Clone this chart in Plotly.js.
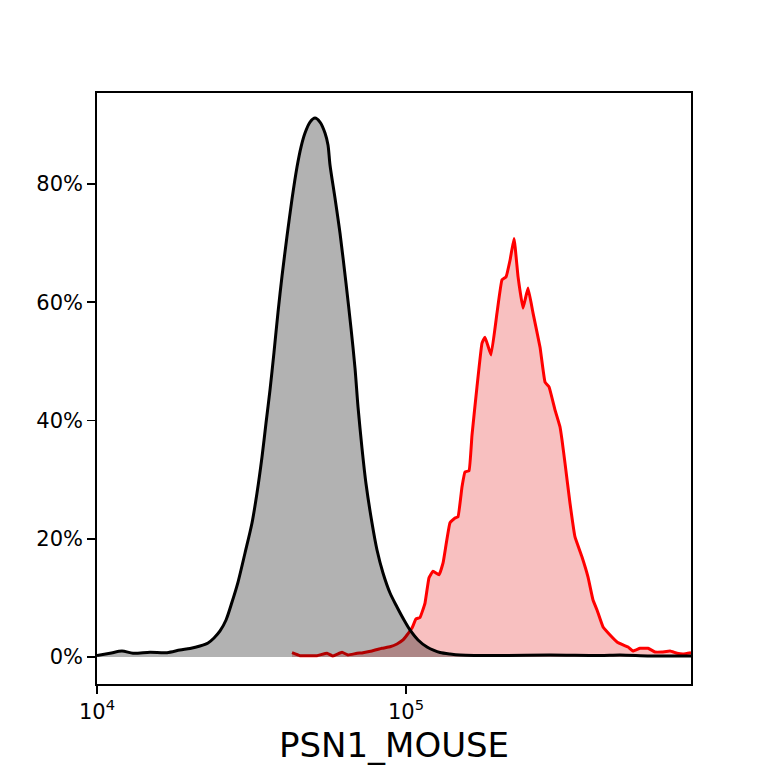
<!DOCTYPE html>
<html>
<head>
<meta charset="utf-8">
<script src="https://cdn.plot.ly/plotly-3.0.1.min.js"></script>
<style>html,body{margin:0;padding:0;background:#fff;}#chart{width:768px;height:768px;}</style>
</head>
<body>
<div id="chart"></div>
<script>
// Control (black/gray) histogram
const controlX = [10000, 11017, 12045, 13077, 14844, 16851, 18559, 19998, 21544, 22874, 23918, 25012, 26156, 27351, 28602, 30132, 31740, 32944, 34197, 35232, 36297, 37399, 38532, 39699, 41205, 42766, 44385, 45731, 47114, 48902, 50758, 52684, 54681, 55918, 56758, 58909, 61144, 63938, 66374, 68385, 69932, 72050, 74229, 77624, 80569, 84249, 88780, 93517, 98521, 103026, 109373, 116955, 123208, 128840, 138800, 149540, 201500, 292400, 424500, 492700, 616100, 836300];
const controlY = [0.25, 0.63, 1.01, 0.63, 0.79, 0.73, 1.18, 1.44, 1.86, 2.37, 3.21, 4.40, 6.26, 9.30, 12.68, 17.59, 22.66, 27.74, 33.83, 39.58, 45.16, 51.58, 58.35, 64.44, 71.20, 77.46, 82.88, 86.26, 88.63, 90.48, 91.16, 90.48, 88.63, 86.6, 83.21, 77.63, 71.71, 63.26, 55.64, 48.87, 42.3, 35.3, 29.3, 22.66, 18.10, 14.21, 10.82, 8.46, 6.26, 4.57, 2.88, 1.69, 1.10, 0.76, 0.51, 0.34, 0.25, 0.34, 0.25, 0.34, 0.17, 0.17];

// Stained (red) histogram
const stainX = [42770, 45390, 51520, 55510, 58050, 62070, 64920, 68900, 72580, 77620, 83600, 88780, 93520, 97790, 100740, 104570, 107760, 111000, 115220, 118700, 122300, 127900, 131800, 138800, 144100, 147300, 151800, 155200, 159900, 163500, 169700, 176200, 180200, 188400, 197000, 204500, 210700, 217100, 223700, 230500, 239100, 248200, 257600, 271500, 281800, 290300, 303500, 315100, 319800, 327000, 339400, 352300, 371200, 388200, 402900, 415100, 434200, 457400, 481800, 503900, 523000, 542800, 571900, 607000, 639300, 673600, 715100, 753500, 788000, 836300];
const stainY = [0.73, 0.22, 0.22, 0.63, 0.17, 0.79, 0.34, 0.59, 0.73, 1.01, 1.47, 1.74, 2.20, 2.88, 3.72, 4.90, 6.43, 6.68, 9.13, 13.4, 14.5, 13.9, 15.9, 22.7, 23.5, 23.7, 28.8, 31.3, 31.5, 37.5, 45.7, 53.1, 54.1, 51.1, 58.2, 63.8, 64.3, 67.1, 70.8, 64.3, 59.0, 62.4, 58.2, 52.4, 46.5, 45.7, 41.8, 38.9, 36.7, 32.8, 26.0, 20.3, 16.9, 13.5, 9.64, 7.95, 5.07, 3.72, 2.54, 2.03, 1.69, 1.01, 1.47, 1.47, 0.85, 0.85, 1.01, 0.63, 0.51, 0.73];

const xTickVals = [10000, 100000];
const xTickText = ['10<sup>4</sup>', '10<sup>5</sup>'];
const yTickVals = [0, 20, 40, 60, 80];
const yTickText = ['0%', '20%', '40%', '60%', '80%'];
const xLabel = 'PSN1_MOUSE';

const font = 'DejaVu Sans, sans-serif';

const traces = [
  {
    x: stainX, y: stainY, type: 'scatter', mode: 'lines',
    line: {color: '#ff0000', width: 3, shape: 'spline', smoothing: 0.3},
    fill: 'tozeroy', fillcolor: 'rgba(230,30,30,0.28)',
    hoverinfo: 'skip', showlegend: false
  },
  {
    x: controlX, y: controlY, type: 'scatter', mode: 'lines',
    line: {color: '#000000', width: 3, shape: 'spline', smoothing: 0.8},
    fill: 'tozeroy', fillcolor: 'rgba(0,0,0,0.3)',
    hoverinfo: 'skip', showlegend: false
  }
];

const layout = {
  width: 768, height: 768,
  margin: {l: 97, r: 77, t: 93, b: 84, pad: 0},
  paper_bgcolor: '#ffffff', plot_bgcolor: '#ffffff',
  showlegend: false,
  font: {family: font, color: '#000000', size: 21},
  xaxis: {
    type: 'log', range: [4, 5.9223],
    tickvals: xTickVals, ticktext: xTickText,
    ticks: 'outside', ticklen: 8, tickwidth: 1.8, tickcolor: '#000',
    showline: true, linecolor: '#000', linewidth: 1.8, mirror: true,
    showgrid: false, zeroline: false,
    tickfont: {family: font, size: 21, color: '#000'},
    title: {text: xLabel, font: {family: font, size: 34, color: '#000'}, standoff: 10},
    automargin: false
  },
  yaxis: {
    range: [-4.57, 95.4],
    tickvals: yTickVals, ticktext: yTickText,
    ticks: 'outside', ticklen: 8, tickwidth: 1.8, tickcolor: '#000',
    showline: true, linecolor: '#000', linewidth: 1.8, mirror: true,
    showgrid: false, zeroline: false,
    tickfont: {family: font, size: 21, color: '#000'},
    automargin: false
  }
};

Plotly.newPlot('chart', traces, layout, {staticPlot: true, displayModeBar: false});
</script>
</body>
</html>
